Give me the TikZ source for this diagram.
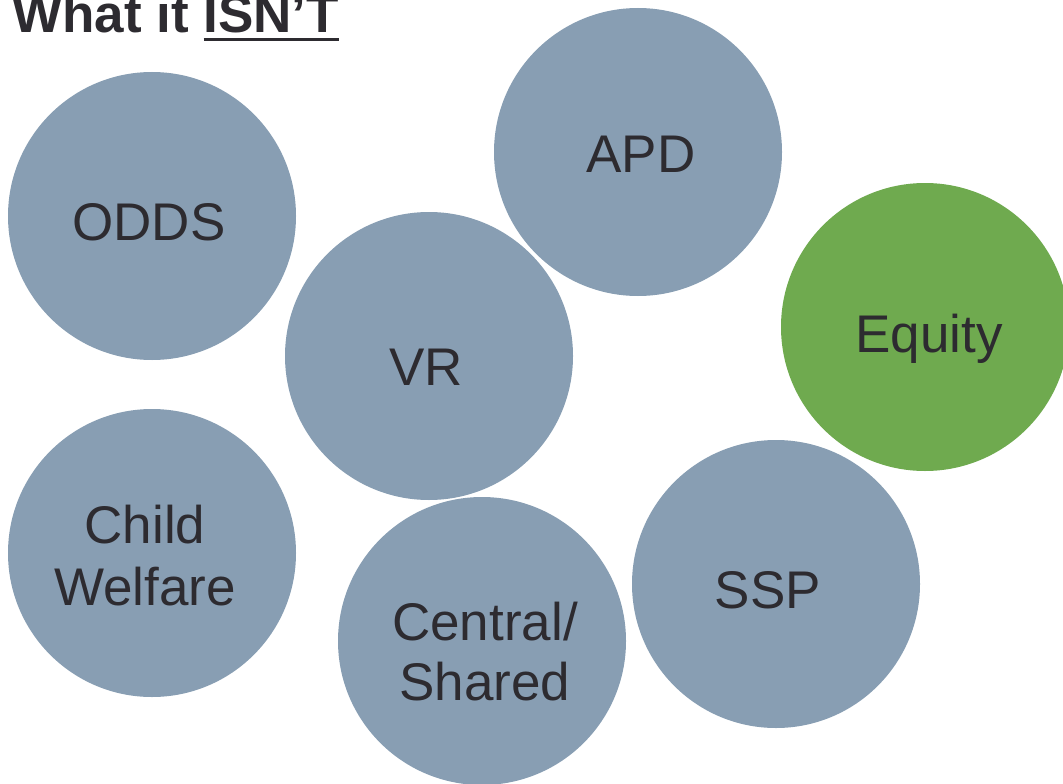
\documentclass[tikz,border=0pt]{standalone}
\usepackage{fontspec}
\setmainfont{Liberation Sans}
\definecolor{bubble}{HTML}{889EB3}
\definecolor{greenbubble}{HTML}{6FAA4F}
\definecolor{ink}{HTML}{2D2B30}
\newcommand{\myuline}[1]{{\setbox0\hbox{#1}\rlap{\rule[-8pt]{\wd0}{3pt}}\box0}}
\begin{document}
\begin{tikzpicture}[x=1pt,y=-1pt,
  bub/.style={circle,fill=bubble,draw=none,minimum size=288pt,inner sep=0pt},
  gbub/.style={bub,fill=greenbubble},
  lbl/.style={anchor=base,text=ink,font=\fontsize{53}{62}\selectfont,inner sep=0pt}]
\useasboundingbox (0,0) rectangle (1063,784);
\clip (0,0) rectangle (1063,784);
\node[bub] (odds) at (152,216) {};
\node[bub] (apd) at (638,152) {};
\node[bub] (vr) at (429,356) {};
\node[gbub] (equity) at (925,327) {};
\node[bub] (child) at (152,553) {};
\node[bub] (central) at (482,641) {};
\node[bub] (ssp) at (776,584) {};
\node[lbl] (toddps) at (149,240) {ODDS};
\node[lbl] (tapd) at (641,172) {APD};
\node[lbl] (tvr) at (426,385) {VR};
\node[lbl] (tequity) at (929,352) {Equity};
\node[lbl] (tchild1) at (145,543) {Child};
\node[lbl] (tchild2) at (145,605) {Welfare};
\node[lbl] (tcentral1) at (485,640) {Central/};
\node[lbl] (tcentral2) at (485,700) {Shared};
\node[lbl] (tssp) at (768,608) {SSP};
\node[anchor=base west,text=ink,inner sep=0pt,font=\fontsize{53}{60}\selectfont\bfseries] (title) at (12,33) {What it \myuline{ISN’T}};
\end{tikzpicture}
\end{document}
